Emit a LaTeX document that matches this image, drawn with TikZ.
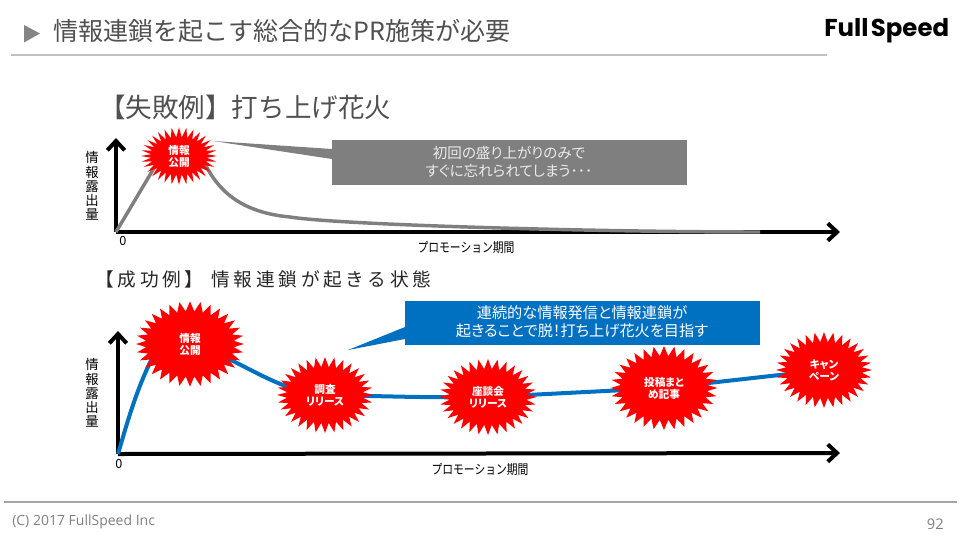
\documentclass[tikz,border=0pt]{standalone}
\usepackage{fontspec}
\setmainfont{Noto Sans CJK JP}
\newfontfamily\jpwide[LetterSpace=20]{Noto Sans CJK JP}
\newfontfamily\jpnote[RawFeature=+palt]{Noto Sans CJK JP}
\newfontfamily\footfont{Open Sans}
\newfontfamily\logofont{Poppins}
\usetikzlibrary{arrows.meta,backgrounds,shapes.symbols}
\newcommand{\fsize}[2]{\fontsize{#1pt}{#2pt}\selectfont}
\definecolor{burstred}{HTML}{FF0000}
\definecolor{failgray}{HTML}{7F7F7F}
\definecolor{goodblue}{HTML}{0070C0}
\definecolor{titlegray}{HTML}{505050}

\begin{document}
\begin{tikzpicture}[x=.75pt,y=-.75pt,
  axis/.style={line width=3pt,-{Straight Barb[length=7pt,width=13pt,line width=3pt]}},
  burst/.style={starburst,starburst points=32,starburst point height=7.5pt,random starburst=0,fill=burstred,text=white,align=center,inner sep=0pt,font=\jpnote\bfseries\fsize{8}{9}},
  failline/.style={line width=2.6pt,failgray},
  goodline/.style={line width=3pt,goodblue},
  note/.style={align=center,inner sep=0pt,font=\jpnote\fsize{#1}{13.5}},
  ylabel/.style={align=center,font=\fsize{10}{10.6}},
  xlabel/.style={font=\fsize{10}{11},xscale=.81,transform shape},
  zero/.style={font=\fsize{9.5}{10}},
  rule/.style={draw=#1,line width=.8pt}]
\useasboundingbox (0,0) rectangle (960,540);
\coordinate (O1) at (116,232); \coordinate (T1) at (116,138); \coordinate (X1) at (840,232);
\coordinate (O2) at (118,454); \coordinate (T2) at (118,331); \coordinate (X2) at (840,453);
\coordinate (K0) at (160,158); \coordinate (K1) at (203,160); \coordinate (K2) at (165,335);
\coordinate (E0) at (290,217); \coordinate (E1) at (760,232);
\coordinate (R1) at (332,149); \coordinate (R2) at (332,159); \coordinate (F1) at (213,141);
\coordinate (R3) at (405,327); \coordinate (R4) at (405,339); \coordinate (F2) at (348,350);

\fill[titlegray!70] (24,25)--(40,33.5)--(24,42.5)--cycle;
\node[anchor=west,inner sep=0pt,text=titlegray,font=\fsize{18.8}{20}] (title) at (53,31) {情報連鎖を起こす総合的なPR施策が必要};
\node[anchor=west,inner sep=0pt,font=\logofont\bfseries\fsize{18.3}{19}] (logo) at (824,31) {Full\hspace{.1em}Speed};
\draw[rule=black!25] (11,55)--(827,55);
\draw[rule=black!35] (4,502)--(957,502);
\node[anchor=west,inner sep=0pt,text=black!50,font=\footfont\fsize{10.5}{11}] (copy) at (12,522) {(C) 2017 FullSpeed Inc};
\node[anchor=east,inner sep=0pt,text=black!50,font=\footfont\fsize{11}{11}] (page) at (944,524) {92};

\node[anchor=west,inner sep=0pt,text=titlegray,font=\fsize{19.9}{21}] (fail) at (99,107) {【失敗例】打ち上げ花火};
\node[anchor=west,inner sep=0pt,text=black!85,font=\jpwide\fsize{14}{15}] (good) at (95,279) {【成功例】 情報連鎖が起きる状態};

\node[ylabel] (Y1) at (92,186) {情\\報\\露\\出\\量};
\node[ylabel] (Y2) at (92,393) {情\\報\\露\\出\\量};
\node[zero] (Z1) at (123,241) {0};
\node[zero] (Z2) at (119,464) {0};
\node[xlabel] (L1) at (466,248) {プロモーション期間};
\node[xlabel] (L2) at (480,470) {プロモーション期間};

\node[burst,minimum width=57pt,minimum height=43pt] (P1) at (179,156) {情報\\公開};
\node[burst,minimum width=81pt,minimum height=64pt] (P2) at (190,344) {情報\\公開};
\node[burst,minimum width=72pt,minimum height=57pt] (P3) at (325,395) {調査\\リリース};
\node[burst,minimum width=73pt,minimum height=57pt] (P4) at (488,397) {座談会\\リリース};
\node[burst,minimum width=80pt,minimum height=63pt] (P5) at (664,388) {投稿まと\\め記事};
\node[burst,minimum width=72pt,minimum height=57pt] (P6) at (824,370) {キャン\\ペーン};

\begin{scope}[on background layer]
\draw[axis] (O1)--(T1);
\draw[axis] (O1)--(X1);
\draw[axis] (O2)--(T2);
\draw[axis] (O2)--(X2);
\draw[failline] (O1)--(K0);
\draw[failline] (K1) .. controls (215,185) and (235,212) .. (E0) .. controls (340,225) and (600,232) .. (E1);
\draw[goodline] (O2) .. controls (128,420) and (140,375) .. (K2);
\draw[goodline] (P2.center) .. controls (235,355) and (275,392) .. (P3.center);
\draw[goodline] (P3.center) .. controls (380,396) and (430,398) .. (P4.center);
\draw[goodline] (P4.center)--(P5.center);
\draw[goodline] (P5.center)--(P6.center);
\end{scope}

\fill[failgray] (F1)--(R1)--(R2)--cycle;
\fill[goodblue] (F2)--(R3)--(R4)--cycle;
\fill[failgray] (332,140) rectangle (687,185);
\fill[goodblue] (405,301) rectangle (760,345);
\node[note=10.9,text=white!92!black] (N1) at (509,162) {初回の盛り上がりのみで\\すぐに忘れられてしまう･･･};
\node[note=11.4,text=white] (N2) at (582,322) {連続的な情報発信と情報連鎖が\\起きることで脱！打ち上げ花火を目指す};
\end{tikzpicture}
\end{document}
